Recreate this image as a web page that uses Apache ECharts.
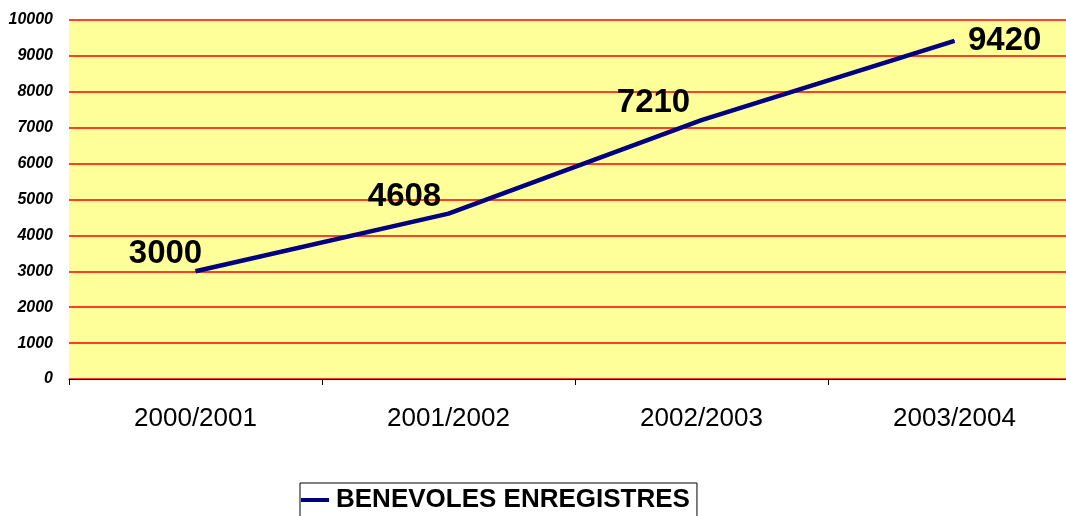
<!DOCTYPE html>
<html lang="fr">
<head>
    <meta charset="UTF-8"/>
    <title>Bénévoles enregistrés</title>
    <style>
        * { margin: 0; padding: 0; }
        body { background: #fff; overflow: hidden; }
        #chart { width: 1066px; height: 516px; }
    </style>
    <script src="https://cdn.jsdelivr.net/npm/echarts@6/dist/echarts.min.js"></script>
</head>
<body>
<div id="chart"></div>
<script>
    const seasons = ["2000/2001", "2001/2002", "2002/2003", "2003/2004"];
    const benevoles = [3000, 4608, 7210, 9420];
    const seriesName = "BENEVOLES ENREGISTRES";
    // où placer chaque étiquette : [position, décalage x]
    const labelPlace = [["top", -30], ["top", -44], ["top", -48], ["right", 0]];

    const font = 'Arial, "Liberation Sans", sans-serif';
    const myChart = echarts.init(document.getElementById("chart"));

    const data = benevoles.map((v, i) => ({
        value: v,
        label: {
            position: labelPlace[i][0],
            distance: labelPlace[i][0] === "right" ? 13 : 0,
            offset: [labelPlace[i][1], 0]
        }
    }));

    myChart.setOption({
        animation: false,
        textStyle: { fontFamily: font },
        grid: {
            left: 69,
            top: 20,
            right: -15,
            bottom: 137,
            outerBoundsMode: "none",
            containLabel: false,
            show: true,
            backgroundColor: "#ffff99",
            borderWidth: 0
        },
        legend: {
            left: 300,
            top: 483,
            padding: [4, 7, 10, 1],
            borderColor: "#000",
            borderWidth: 1,
            borderRadius: 0,
            icon: "rect",
            itemWidth: 28,
            itemHeight: 4,
            itemGap: 10,
            textStyle: { fontFamily: font, fontSize: 26, fontWeight: "bold", color: "#000", padding: [0, 0, 0, 2] },
            data: [seriesName]
        },
        xAxis: {
            type: "category",
            data: seasons,
            boundaryGap: true,
            axisLine: { lineStyle: { color: "#000", width: 1 } },
            axisTick: { show: true, length: 6, lineStyle: { color: "#000" } },
            axisLabel: { fontFamily: font, fontSize: 26, color: "#000", margin: 27 }
        },
        yAxis: {
            type: "value",
            min: 0,
            max: 10000,
            interval: 1000,
            axisLine: { show: false },
            axisTick: { show: false },
            axisLabel: {
                fontFamily: font,
                fontSize: 16,
                fontWeight: "bold",
                fontStyle: "italic",
                color: "#000",
                margin: 16,
                formatter: (v) => String(v)
            },
            splitLine: { lineStyle: { color: "#ff0000", width: 1.5 } }
        },
        series: [{
            name: seriesName,
            type: "line",
            data: data,
            symbol: "circle",
            symbolSize: 1,
            itemStyle: { color: "#000080" },
            lineStyle: { color: "#000080", width: 4.5 },
            label: {
                show: true,
                fontFamily: font,
                fontSize: 33,
                fontWeight: "bold",
                color: "#000"
            }
        }]
    });
</script>
</body>
</html>
